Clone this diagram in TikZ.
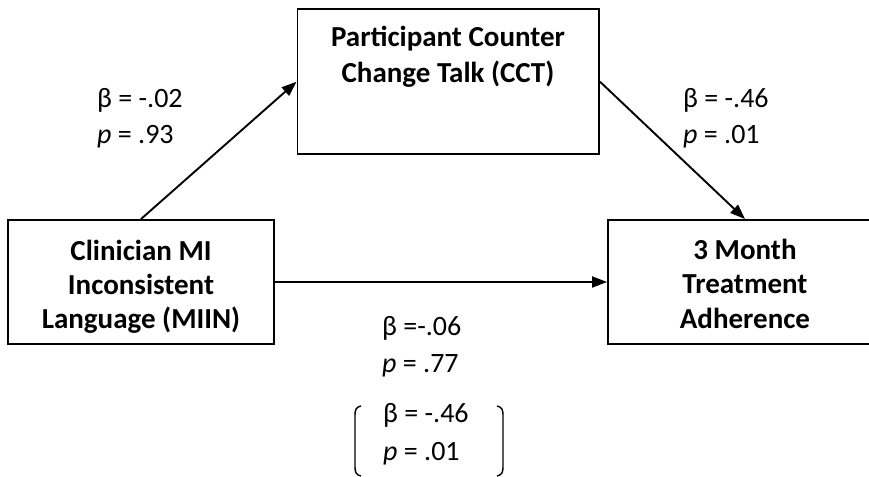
\documentclass[tikz,border=0pt]{standalone}
\usepackage{fontspec}
\setmainfont{Carlito}
\usetikzlibrary{arrows.meta}
\begin{document}
\begin{tikzpicture}[x=1pt,y=-1pt,
  box/.style={draw, line width=1.9pt, inner sep=0pt},
  btext/.style={anchor=base, inner sep=0pt, font=\fontsize{29}{34}\selectfont\bfseries},
  lbl/.style={anchor=base west, inner sep=0pt, font=\fontsize{28}{34}\selectfont},
  conn/.style={line width=1.9pt, -{Triangle[length=15pt,width=11pt]}},
  paren/.style={line width=1.4pt}
]
\clip (0,0) rectangle (869,476);
% boxes
\node[box, minimum width=301.5pt, minimum height=144.7pt] (cct) at (448.25,81.7) {};
\node[box, minimum width=266pt, minimum height=124pt] (miin) at (141,282) {};
\node[box, minimum width=274pt, minimum height=124pt] (adh) at (745,282) {};
% box texts
\node[btext] (cct1) at (448,47) {Participant Counter};
\node[btext] (cct2) at (448,83) {Change Talk (CCT)};
\node[btext] (miin1) at (141,260) {Clinician MI};
\node[btext] (miin2) at (141,294) {Inconsistent};
\node[btext] (miin3) at (141,328) {Language (MIIN)};
\node[btext] (adh1) at (745,259) {3 Month};
\node[btext] (adh2) at (745,293) {Treatment};
\node[btext] (adh3) at (745,328) {Adherence};
% connectors
\draw[conn] (miin.north) -- (cct.west);
\draw[conn] (cct.east) -- (adh.north);
\draw[conn] (miin.east) -- (adh.west);
% labels
\node[lbl] (a1) at (97,107) {β = -.02};
\node[lbl] (a2) at (97,143) {\textit{p} = .93};
\node[lbl] (b1) at (683,108) {β = -.46};
\node[lbl] (b2) at (683,143) {\textit{p} = .01};
\node[lbl] (c1) at (382,335) {β =-.06};
\node[lbl] (c2) at (382,372) {\textit{p} = .77};
\node[lbl] (d1) at (383,422) {β = -.46};
\node[lbl] (d2) at (383,460) {\textit{p} = .01};
% brackets
\draw[paren] (361,406) .. controls (356,407) and (355,410) .. (355,415) -- (355,467) .. controls (355,472) and (356,475) .. (361,476);
\draw[paren] (497,406) .. controls (502,407) and (503,410) .. (503,415) -- (503,467) .. controls (503,472) and (502,475) .. (497,476);
\end{tikzpicture}
\end{document}
